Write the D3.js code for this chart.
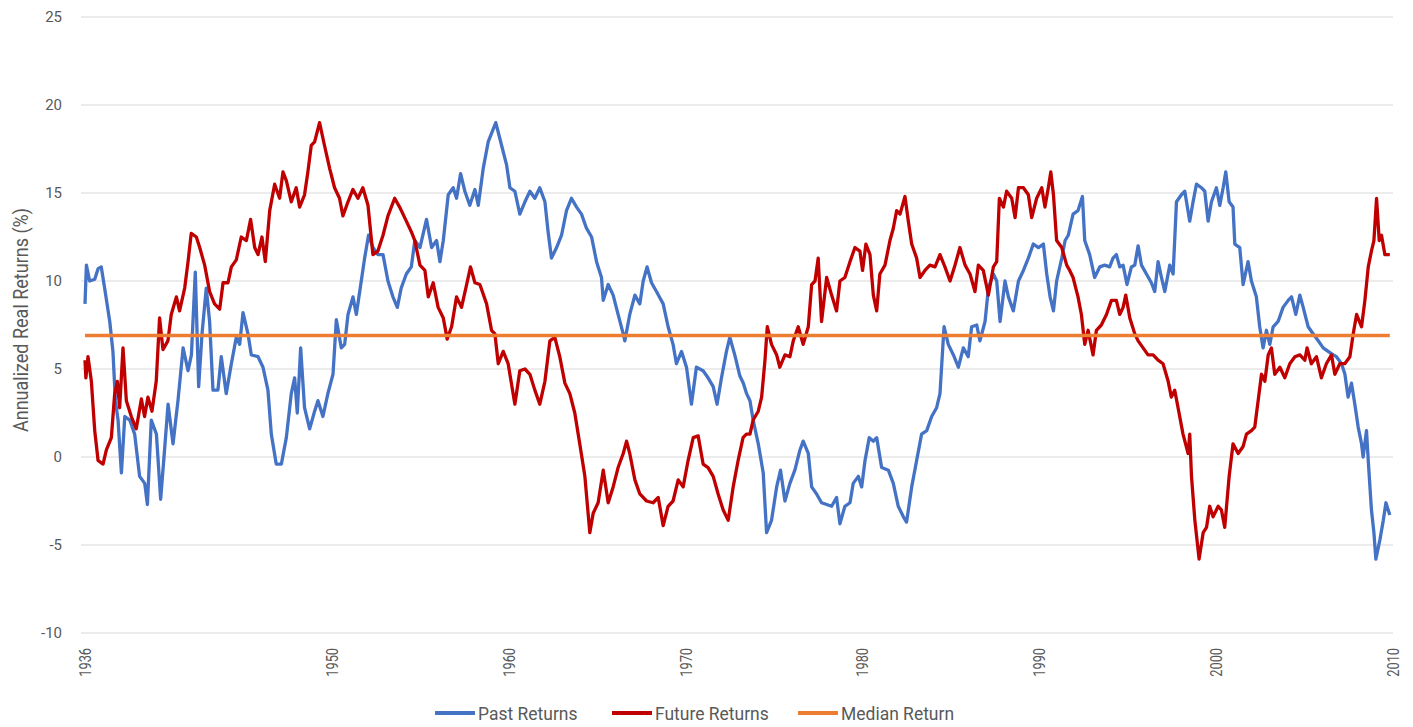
<!DOCTYPE html>
<html>
<head>
<meta charset="utf-8">
<script src="https://cdn.jsdelivr.net/npm/d3@7"></script>
<style>
  body { margin: 0; background: #fff; }
  svg text { font-family: Roboto, "Liberation Sans", sans-serif; fill: #595959; }
</style>
</head>
<body>
<div id="chart"></div>
<script>
// [year, annualized real return %]
const pastReturns = [
  [1936.0, 8.7], [1936.08, 10.9], [1936.26, 10.0], [1936.55, 10.1], [1936.74, 10.7], [1936.92, 10.8],
  [1937.11, 9.6], [1937.40, 7.7], [1937.58, 6.0], [1937.72, 3.2], [1937.87, 2.1], [1938.06, -0.9],
  [1938.25, 2.3], [1938.53, 2.1], [1938.81, 1.3], [1939.09, -1.1], [1939.38, -1.5], [1939.53, -2.7],
  [1939.75, 2.1], [1940.04, 1.3], [1940.28, -2.4], [1940.47, 0.0], [1940.70, 3.0], [1940.98, 0.75],
  [1941.26, 3.2], [1941.55, 6.2], [1941.83, 4.9], [1942.02, 5.8], [1942.24, 10.5], [1942.43, 4.0],
  [1942.62, 7.0], [1942.86, 9.6], [1943.05, 7.7], [1943.24, 3.8], [1943.52, 3.8], [1943.71, 5.7],
  [1943.99, 3.6], [1944.28, 5.3], [1944.56, 6.8], [1944.75, 6.4], [1944.94, 8.2], [1945.22, 7.0],
  [1945.41, 5.8], [1945.79, 5.7], [1946.07, 5.1], [1946.35, 3.8], [1946.54, 1.3], [1946.82, -0.4],
  [1947.11, -0.4], [1947.39, 1.1], [1947.67, 3.6], [1947.86, 4.5], [1948.01, 2.5], [1948.20, 6.2],
  [1948.42, 2.8], [1948.71, 1.6], [1948.99, 2.6], [1949.18, 3.2], [1949.46, 2.3], [1949.74, 3.6],
  [1950.03, 4.7], [1950.22, 7.8], [1950.50, 6.2], [1950.69, 6.4], [1950.88, 8.1], [1951.16, 9.1],
  [1951.35, 8.1], [1951.63, 10.0], [1951.82, 11.3], [1952.04, 12.6], [1952.29, 11.9], [1952.57, 11.5],
  [1952.86, 11.5], [1953.14, 10.0], [1953.42, 9.1], [1953.67, 8.5], [1953.89, 9.6], [1954.18, 10.4],
  [1954.46, 10.8], [1954.66, 12.3], [1954.95, 11.9], [1955.32, 13.5], [1955.61, 11.9], [1955.89, 12.3],
  [1956.08, 11.1], [1956.27, 12.3], [1956.55, 14.9], [1956.83, 15.3], [1957.02, 14.7], [1957.25, 16.1],
  [1957.49, 15.1], [1957.77, 14.3], [1958.06, 15.2], [1958.25, 14.3], [1958.53, 16.4], [1958.81, 17.9],
  [1959.24, 19.0], [1959.57, 17.7], [1959.85, 16.6], [1960.04, 15.3], [1960.32, 15.1], [1960.60, 13.8],
  [1960.89, 14.5], [1961.17, 15.1], [1961.45, 14.7], [1961.73, 15.3], [1962.02, 14.5], [1962.20, 12.8],
  [1962.39, 11.3], [1962.68, 11.9], [1962.96, 12.6], [1963.24, 14.0], [1963.52, 14.7], [1963.81, 14.2],
  [1964.09, 13.8], [1964.37, 13.0], [1964.66, 12.5], [1964.94, 11.1], [1965.22, 10.2], [1965.32, 8.9],
  [1965.60, 9.8], [1965.88, 9.2], [1966.16, 8.1], [1966.45, 7.0], [1966.54, 6.6], [1966.82, 8.1],
  [1967.11, 9.2], [1967.39, 8.7], [1967.58, 10.0], [1967.80, 10.8], [1968.05, 9.9], [1968.33, 9.4],
  [1968.71, 8.7], [1968.99, 7.4], [1969.27, 6.4], [1969.46, 5.3], [1969.75, 6.0], [1970.03, 5.1],
  [1970.31, 3.0], [1970.59, 5.1], [1970.97, 4.9], [1971.25, 4.5], [1971.54, 4.0], [1971.76, 3.0],
  [1972.01, 4.5], [1972.29, 6.0], [1972.48, 6.8], [1972.76, 5.8], [1973.05, 4.6], [1973.24, 4.2],
  [1973.43, 3.6], [1973.62, 3.2], [1973.80, 2.1], [1974.09, 0.75], [1974.37, -0.9], [1974.56, -4.3],
  [1974.84, -3.6], [1975.13, -1.7], [1975.35, -0.75], [1975.60, -2.5], [1975.88, -1.5], [1976.16, -0.75],
  [1976.45, 0.4], [1976.63, 0.9], [1976.92, 0.2], [1977.11, -1.7], [1977.39, -2.1], [1977.67, -2.6],
  [1977.96, -2.7], [1978.24, -2.8], [1978.52, -2.3], [1978.71, -3.8], [1978.99, -2.8], [1979.28, -2.6],
  [1979.46, -1.5], [1979.75, -1.1], [1979.94, -1.7], [1980.13, -0.2], [1980.37, 1.1], [1980.60, 0.9],
  [1980.79, 1.1], [1981.07, -0.6], [1981.45, -0.75], [1981.73, -1.5], [1982.01, -2.8], [1982.30, -3.4],
  [1982.48, -3.7], [1982.77, -1.7], [1983.05, -0.2], [1983.33, 1.3], [1983.62, 1.5], [1983.90, 2.3],
  [1984.18, 2.8], [1984.37, 3.6], [1984.60, 7.4], [1984.84, 6.4], [1985.13, 5.8], [1985.41, 5.1],
  [1985.69, 6.2], [1985.97, 5.7], [1986.16, 7.4], [1986.45, 7.5], [1986.63, 6.6], [1986.92, 7.7],
  [1987.11, 9.6], [1987.39, 10.4], [1987.58, 10.0], [1987.77, 7.7], [1988.05, 10.0], [1988.24, 9.1],
  [1988.52, 8.3], [1988.81, 10.0], [1989.09, 10.6], [1989.37, 11.3], [1989.65, 12.1], [1989.94, 11.9],
  [1990.22, 12.1], [1990.41, 10.4], [1990.60, 9.1], [1990.79, 8.3], [1990.97, 10.0], [1991.26, 11.3],
  [1991.45, 12.3], [1991.63, 12.6], [1991.90, 13.8], [1992.18, 14.0], [1992.43, 14.8], [1992.56, 12.3],
  [1992.84, 11.5], [1993.12, 10.2], [1993.41, 10.8], [1993.69, 10.9], [1993.97, 10.8], [1994.16, 11.3],
  [1994.35, 11.5], [1994.54, 10.8], [1994.73, 10.9], [1994.95, 9.8], [1995.20, 10.8], [1995.39, 10.9],
  [1995.58, 12.0], [1995.77, 10.9], [1996.05, 10.4], [1996.33, 9.9], [1996.52, 9.4], [1996.71, 11.1],
  [1996.90, 10.2], [1997.09, 9.4], [1997.37, 10.9], [1997.56, 10.4], [1997.75, 14.5], [1998.03, 14.9],
  [1998.22, 15.1], [1998.50, 13.4], [1998.69, 14.5], [1998.88, 15.5], [1999.16, 15.3], [1999.35, 15.1],
  [1999.54, 13.4], [1999.73, 14.5], [2000.01, 15.3], [2000.20, 14.3], [2000.39, 15.3], [2000.54, 16.2],
  [2000.73, 14.5], [2000.95, 14.2], [2001.05, 12.1], [2001.33, 11.9], [2001.52, 9.8], [2001.80, 11.1],
  [2001.99, 10.0], [2002.27, 9.1], [2002.46, 7.4], [2002.65, 6.2], [2002.84, 7.2], [2003.03, 6.4],
  [2003.22, 7.4], [2003.50, 7.7], [2003.78, 8.5], [2004.07, 8.9], [2004.26, 9.1], [2004.50, 8.1],
  [2004.73, 9.2], [2004.92, 8.5], [2005.20, 7.4], [2005.48, 7.0], [2005.77, 6.6], [2006.05, 6.2],
  [2006.33, 6.0], [2006.62, 5.8], [2006.80, 5.7], [2007.09, 5.3], [2007.28, 4.7], [2007.46, 3.4],
  [2007.65, 4.2], [2007.84, 3.0], [2008.03, 1.7], [2008.22, 0.75], [2008.31, 0.0], [2008.50, 1.5],
  [2008.60, -0.2], [2008.78, -3.0], [2008.92, -4.3], [2009.03, -5.8], [2009.26, -4.7], [2009.45, -3.6],
  [2009.60, -2.6], [2009.82, -3.3]
];

const futureReturns = [
  [1936.0, 5.5], [1936.05, 4.5], [1936.17, 5.7], [1936.36, 4.3], [1936.55, 1.5], [1936.74, -0.2],
  [1937.02, -0.4], [1937.21, 0.4], [1937.49, 1.1], [1937.68, 3.6], [1937.83, 4.3], [1937.96, 2.8],
  [1938.15, 6.2], [1938.34, 3.2], [1938.62, 2.3], [1938.90, 1.6], [1939.19, 3.3], [1939.37, 2.3],
  [1939.56, 3.4], [1939.79, 2.6], [1940.03, 4.3], [1940.22, 7.9], [1940.41, 6.1], [1940.69, 6.6],
  [1940.88, 8.1], [1941.17, 9.1], [1941.35, 8.3], [1941.64, 9.6], [1941.83, 11.1], [1942.01, 12.7],
  [1942.30, 12.5], [1942.49, 11.9], [1942.77, 10.9], [1943.05, 9.4], [1943.33, 8.7], [1943.62, 8.4],
  [1943.81, 9.9], [1944.09, 9.9], [1944.28, 10.8], [1944.56, 11.2], [1944.84, 12.5], [1945.13, 12.3],
  [1945.37, 13.5], [1945.60, 11.9], [1945.79, 11.5], [1946.01, 12.5], [1946.20, 11.1], [1946.45, 14.0],
  [1946.73, 15.5], [1947.01, 14.7], [1947.20, 16.2], [1947.39, 15.7], [1947.67, 14.5], [1947.95, 15.3],
  [1948.14, 14.2], [1948.42, 14.9], [1948.61, 16.2], [1948.80, 17.7], [1948.99, 17.9], [1949.27, 19.0],
  [1949.55, 17.7], [1949.84, 16.4], [1950.12, 15.3], [1950.40, 14.7], [1950.59, 13.7], [1950.88, 14.5],
  [1951.16, 15.2], [1951.44, 14.7], [1951.72, 15.3], [1952.01, 14.3], [1952.29, 11.5], [1952.57, 11.7],
  [1952.86, 12.6], [1953.14, 13.7], [1953.52, 14.7], [1953.80, 14.2], [1954.18, 13.4], [1954.46, 12.8],
  [1954.66, 12.3], [1954.95, 10.9], [1955.23, 10.6], [1955.42, 9.1], [1955.70, 9.9], [1955.98, 8.5],
  [1956.27, 7.9], [1956.49, 6.7], [1956.74, 7.4], [1957.02, 9.1], [1957.30, 8.5], [1957.59, 9.8],
  [1957.81, 10.8], [1958.06, 9.9], [1958.34, 9.8], [1958.72, 8.7], [1959.00, 7.2], [1959.19, 7.0],
  [1959.38, 5.3], [1959.66, 6.0], [1959.94, 5.3], [1960.32, 3.0], [1960.60, 4.9], [1960.89, 5.0],
  [1961.17, 4.7], [1961.45, 3.8], [1961.73, 3.0], [1962.02, 4.3], [1962.30, 6.6], [1962.58, 6.8],
  [1962.86, 5.7], [1963.15, 4.2], [1963.43, 3.6], [1963.71, 2.5], [1963.99, 0.75], [1964.28, -1.1],
  [1964.56, -4.3], [1964.75, -3.2], [1965.03, -2.6], [1965.32, -0.75], [1965.60, -2.6], [1965.88, -1.7],
  [1966.16, -0.6], [1966.45, 0.2], [1966.64, 0.9], [1966.82, 0.2], [1967.11, -1.3], [1967.39, -2.1],
  [1967.77, -2.5], [1968.14, -2.6], [1968.43, -2.3], [1968.71, -3.9], [1968.99, -2.8], [1969.27, -2.5],
  [1969.56, -1.3], [1969.84, -1.7], [1970.12, -0.2], [1970.41, 1.1], [1970.69, 1.2], [1970.97, -0.4],
  [1971.25, -0.6], [1971.54, -1.1], [1971.82, -2.1], [1972.10, -3.0], [1972.39, -3.6], [1972.67, -1.7],
  [1972.95, -0.2], [1973.23, 1.1], [1973.42, 1.3], [1973.62, 1.3], [1973.80, 2.1], [1974.09, 2.6],
  [1974.28, 3.4], [1974.47, 5.5], [1974.60, 7.4], [1974.84, 6.4], [1975.13, 5.8], [1975.31, 5.1],
  [1975.60, 5.8], [1975.88, 5.7], [1976.07, 6.6], [1976.35, 7.4], [1976.63, 6.4], [1976.92, 7.4],
  [1977.11, 9.8], [1977.30, 10.0], [1977.48, 11.3], [1977.67, 7.7], [1977.96, 10.2], [1978.24, 9.2],
  [1978.52, 8.3], [1978.71, 10.0], [1978.99, 10.2], [1979.28, 11.1], [1979.56, 11.9], [1979.84, 11.7],
  [1979.99, 10.6], [1980.18, 12.1], [1980.41, 11.5], [1980.60, 9.2], [1980.79, 8.3], [1980.97, 10.4],
  [1981.26, 10.9], [1981.54, 12.3], [1981.73, 13.0], [1981.92, 14.0], [1982.11, 13.8], [1982.39, 14.8],
  [1982.58, 13.4], [1982.77, 12.1], [1983.05, 11.3], [1983.24, 10.2], [1983.52, 10.6], [1983.80, 10.9],
  [1984.09, 10.8], [1984.37, 11.5], [1984.65, 10.8], [1984.94, 10.0], [1985.22, 10.9], [1985.50, 11.9],
  [1985.79, 10.9], [1986.07, 10.4], [1986.35, 9.4], [1986.54, 10.9], [1986.82, 10.6], [1987.11, 9.2],
  [1987.39, 10.8], [1987.58, 11.1], [1987.73, 14.7], [1987.96, 14.2], [1988.14, 15.1], [1988.43, 14.7],
  [1988.62, 13.6], [1988.81, 15.3], [1989.09, 15.3], [1989.37, 14.9], [1989.56, 13.6], [1989.84, 14.7],
  [1990.13, 15.3], [1990.31, 14.2], [1990.50, 15.3], [1990.64, 16.2], [1990.79, 14.9], [1990.97, 12.3],
  [1991.26, 11.9], [1991.54, 10.9], [1991.71, 10.6], [1991.90, 10.2], [1992.18, 9.1], [1992.37, 8.1],
  [1992.56, 6.4], [1992.75, 7.2], [1993.03, 5.8], [1993.22, 7.2], [1993.50, 7.5], [1993.79, 8.1],
  [1994.07, 8.9], [1994.35, 8.9], [1994.54, 8.1], [1994.73, 8.5], [1994.88, 9.2], [1995.11, 7.9],
  [1995.39, 7.0], [1995.58, 6.6], [1995.86, 6.2], [1996.14, 5.8], [1996.43, 5.8], [1996.71, 5.5],
  [1996.99, 5.3], [1997.28, 4.3], [1997.46, 3.4], [1997.65, 3.8], [1997.84, 2.8], [1998.12, 1.3],
  [1998.41, 0.2], [1998.50, 1.3], [1998.60, -1.1], [1998.79, -3.6], [1999.03, -5.8], [1999.26, -4.3],
  [1999.45, -4.0], [1999.63, -2.8], [1999.82, -3.4], [2000.11, -2.8], [2000.29, -3.0], [2000.48, -4.0],
  [2000.73, -1.1], [2000.95, 0.75], [2001.24, 0.2], [2001.52, 0.6], [2001.71, 1.3], [2001.99, 1.5],
  [2002.18, 1.7], [2002.37, 3.2], [2002.56, 4.7], [2002.75, 4.3], [2002.94, 5.8], [2003.12, 6.2],
  [2003.31, 4.7], [2003.60, 5.1], [2003.88, 4.5], [2004.16, 5.3], [2004.45, 5.7], [2004.73, 5.8],
  [2005.01, 5.5], [2005.14, 6.2], [2005.38, 5.3], [2005.67, 5.7], [2005.95, 4.5], [2006.23, 5.3],
  [2006.52, 5.8], [2006.71, 4.7], [2006.99, 5.3], [2007.27, 5.3], [2007.56, 5.7], [2007.75, 7.0],
  [2007.94, 8.1], [2008.22, 7.4], [2008.41, 8.9], [2008.60, 10.8], [2008.78, 11.7], [2008.92, 12.3],
  [2009.07, 14.7], [2009.22, 12.3], [2009.35, 12.6], [2009.54, 11.5], [2009.82, 11.5]
];

const medianReturn = 6.9;
const yTicks = [-10, -5, 0, 5, 10, 15, 20, 25];
const xTickYears = [1936, 1950, 1960, 1970, 1980, 1990, 2000, 2010];
const seriesNames = ["Past Returns", "Future Returns", "Median Return"];
const seriesColors = ["#4472C4", "#C00000", "#ED7D31"];

const width = 1413, height = 727;

const svg = d3.select("#chart").append("svg")
  .attr("width", width)
  .attr("height", height);

const x = d3.scaleLinear().domain([1936, 2010]).range([85, 1393]);
const y = d3.scaleLinear().domain([-10, 25]).range([633, 17]);

// gridlines
svg.append("g")
  .selectAll("line")
  .data(yTicks)
  .join("line")
  .attr("x1", 81)
  .attr("x2", 1393)
  .attr("y1", d => y(d))
  .attr("y2", d => y(d))
  .attr("stroke", "#d9d9d9")
  .attr("stroke-width", 1.2);

// y tick labels
svg.append("g")
  .selectAll("text")
  .data(yTicks)
  .join("text")
  .attr("x", 62)
  .attr("y", d => y(d))
  .attr("dy", "0.35em")
  .attr("text-anchor", "end")
  .style("font-size", "15px")
  .text(d => d);

// x tick labels, rotated and a bit condensed
svg.append("g")
  .selectAll("text")
  .data(xTickYears)
  .join("text")
  .attr("transform", d => `translate(${x(d)},648)rotate(-90)scale(0.8,1)`)
  .attr("dy", "0.35em")
  .attr("text-anchor", "end")
  .style("font-size", "16px")
  .text(d => d);

// y axis title
svg.append("text")
  .attr("transform", "translate(21,320)rotate(-90)scale(0.9,1)")
  .attr("dy", "0.35em")
  .attr("text-anchor", "middle")
  .style("font-size", "20px")
  .text("Annualized Real Returns (%)");

const line = d3.line()
  .x(d => x(d[0]))
  .y(d => y(d[1]));

const medianData = [[1936, medianReturn], [2009.82, medianReturn]];

[pastReturns, futureReturns, medianData].forEach((data, i) => {
  svg.append("path")
    .datum(data)
    .attr("fill", "none")
    .attr("stroke", seriesColors[i])
    .attr("stroke-width", i === 2 ? 3.5 : 3.3)
    .attr("stroke-linejoin", "round")
    .attr("d", line);
});

// legend
const legendX = [435, 612, 798];
const legend = svg.append("g")
  .selectAll("g")
  .data(seriesNames)
  .join("g")
  .attr("transform", (d, i) => `translate(${legendX[i]},713)`);

legend.append("line")
  .attr("x1", 0)
  .attr("x2", 40)
  .attr("stroke", (d, i) => seriesColors[i])
  .attr("stroke-width", 4);

legend.append("text")
  .attr("transform", "translate(43,0)scale(0.92,1)")
  .attr("dy", "0.35em")
  .style("font-size", "19px")
  .text(d => d);
</script>
</body>
</html>
